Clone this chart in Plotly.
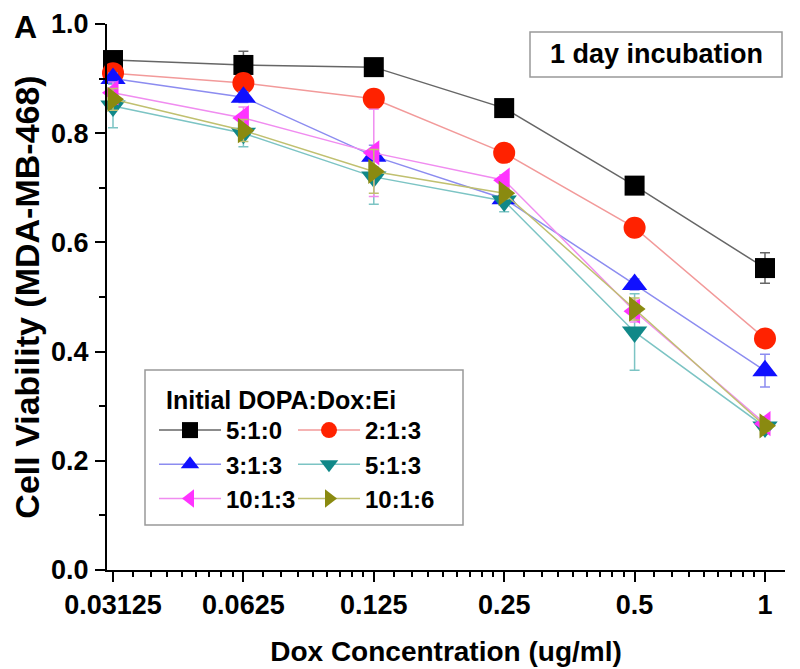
import plotly.graph_objects as go

# ---------------- data ----------------
dox_conc = [0.03125, 0.0625, 0.125, 0.25, 0.5, 1]
tick_labels = ["0.03125", "0.0625", "0.125", "0.25", "0.5", "1"]

series_names = ["5:1:0", "2:1:3", "3:1:3", "5:1:3", "10:1:3", "10:1:6"]

v_510 = [0.934, 0.925, 0.921, 0.846, 0.704, 0.553]
v_213 = [0.910, 0.892, 0.863, 0.764, 0.627, 0.424]
v_313 = [0.900, 0.866, 0.758, 0.680, 0.523, 0.365]
v_513 = [0.850, 0.800, 0.720, 0.676, 0.436, 0.262]
v_1013 = [0.874, 0.828, 0.764, 0.714, 0.474, 0.268]
v_1016 = [0.862, 0.805, 0.730, 0.690, 0.478, 0.264]

e_510 = [0.010, 0.025, 0.010, 0.010, 0.010, 0.028]
e_213 = [0.010, 0.010, 0.010, 0.010, 0.010, 0.010]
e_313 = [0.010, 0.010, 0.020, 0.010, 0.010, 0.030]
e_513 = [0.040, 0.025, 0.050, 0.020, 0.070, 0.010]
e_1013 = [0.020, 0.020, 0.080, 0.010, 0.020, 0.010]
e_1016 = [0.020, 0.020, 0.040, 0.010, 0.020, 0.010]

values = [v_510, v_213, v_313, v_513, v_1013, v_1016]
errors = [e_510, e_213, e_313, e_513, e_1013, e_1016]

# ---------------- styles ----------------
marker_colors = ["#000000", "#FF2200", "#1010FF", "#108888", "#FF33FF", "#8A8A10"]
line_colors = ["#666666", "#F29A9A", "#8C8CF0", "#7CC4C4", "#F08CF0", "#C0C070"]
symbols = ["square", "circle", "triangle-up", "triangle-down", "triangle-left", "triangle-right"]
sizes = [20, 22, 22, 22, 22, 22]
legend_ids = ["legend", "legend2", "legend", "legend2", "legend", "legend2"]

FONT = "Arial, Liberation Sans, sans-serif"

# the page body adds an 8px offset; the figure is sized to fill the rest of the window
OFF = 8
W, H = 800 - OFF, 669 - OFF
# plot area in page pixels
L, R, T, B = 107, 785, 24, 570


def px(xp):
    return (xp - L) / (R - L)


def py(yp):
    return (B - yp) / (B - T)


fig = go.Figure()
for name, v, e, mc, lc, sym, sz, lg in zip(series_names, values, errors, marker_colors,
                                          line_colors, symbols, sizes, legend_ids):
    fig.add_trace(go.Scatter(
        x=dox_conc, y=v, name=name, mode="lines+markers",
        line=dict(color=lc, width=1.5),
        marker=dict(symbol=sym, size=sz, color=mc, line=dict(width=0)),
        error_y=dict(type="data", array=e, visible=True, color=lc, thickness=1.5, width=5),
        cliponaxis=False, legend=lg,
    ))

# minor ticks (Origin style: 8 minor ticks between doublings)
minor_vals = [b * (1 + k / 9) for b in dox_conc[:-1] for k in range(1, 9)]

legend_font = dict(size=24, family=FONT, weight="bold")

fig.update_layout(
    width=W, height=H,
    margin=dict(l=L - OFF, r=W - (R - OFF), t=T - OFF, b=H - (B - OFF), autoexpand=False),
    paper_bgcolor="white", plot_bgcolor="white",
    font=dict(family=FONT, color="black"),
    showlegend=True,
    xaxis=dict(
        type="log", range=[-1.519, 0.0462], automargin=False,
        tickmode="array", tickvals=dox_conc, ticktext=tick_labels,
        ticks="outside", ticklen=10, tickwidth=2, tickcolor="black",
        showline=True, linewidth=2, linecolor="black",
        showgrid=False, zeroline=False,
        tickfont=dict(size=27, family=FONT, weight="bold"),
        minor=dict(tickmode="array", tickvals=minor_vals, ticks="outside", ticklen=5,
                   tickwidth=1.5, tickcolor="black", showgrid=False),
        title=dict(text="Dox Concentration (ug/ml)", standoff=22,
                   font=dict(size=28, family=FONT, weight="bold")),
    ),
    yaxis=dict(
        range=[0, 1.0], tickmode="linear", tick0=0, dtick=0.2, tickformat=".1f",
        automargin=False,
        ticks="outside", ticklen=10, tickwidth=2, tickcolor="black",
        showline=True, linewidth=2, linecolor="black",
        showgrid=False, zeroline=False, ticklabelstandoff=1,
        tickfont=dict(size=27, family=FONT, weight="bold"),
        minor=dict(dtick=0.1, ticks="outside", ticklen=6, tickwidth=1.5,
                   tickcolor="black", showgrid=False),
        title=dict(text="Cell Viability (MDA-MB-468)", standoff=14,
                   font=dict(size=34, family=FONT, weight="bold")),
    ),
    legend=dict(
        x=px(154), y=py(408), xanchor="left", yanchor="top",
        bgcolor="rgba(0,0,0,0)", borderwidth=0, itemwidth=62,
        font=legend_font, tracegroupgap=0,
    ),
    legend2=dict(
        x=px(293), y=py(408), xanchor="left", yanchor="top",
        bgcolor="rgba(0,0,0,0)", borderwidth=0, itemwidth=62,
        font=legend_font, tracegroupgap=0,
    ),
    shapes=[
        dict(type="rect", xref="paper", yref="paper",
             x0=px(145), x1=px(463), y0=py(525), y1=py(370),
             line=dict(color="#999999", width=1.5), fillcolor="rgba(0,0,0,0)", layer="above"),
        dict(type="rect", xref="paper", yref="paper",
             x0=px(530), x1=px(782), y0=py(77), y1=py(32),
             line=dict(color="#999999", width=1.5), fillcolor="rgba(0,0,0,0)", layer="above"),
    ],
    annotations=[
        dict(text="Initial DOPA:Dox:Ei", xref="paper", yref="paper",
             x=px(164), y=py(400), xanchor="left", yanchor="middle", showarrow=False,
             font=dict(size=25, family=FONT, weight="bold")),
        dict(text="1 day incubation", xref="paper", yref="paper",
             x=px(656), y=py(54), xanchor="center", yanchor="middle", showarrow=False,
             font=dict(size=27, family=FONT, weight="bold")),
        dict(text="A", xref="paper", yref="paper",
             x=px(25), y=py(27), xanchor="center", yanchor="middle", showarrow=False,
             font=dict(size=32, family=FONT, weight="bold")),
    ],
)

fig.write_html("out.html")
